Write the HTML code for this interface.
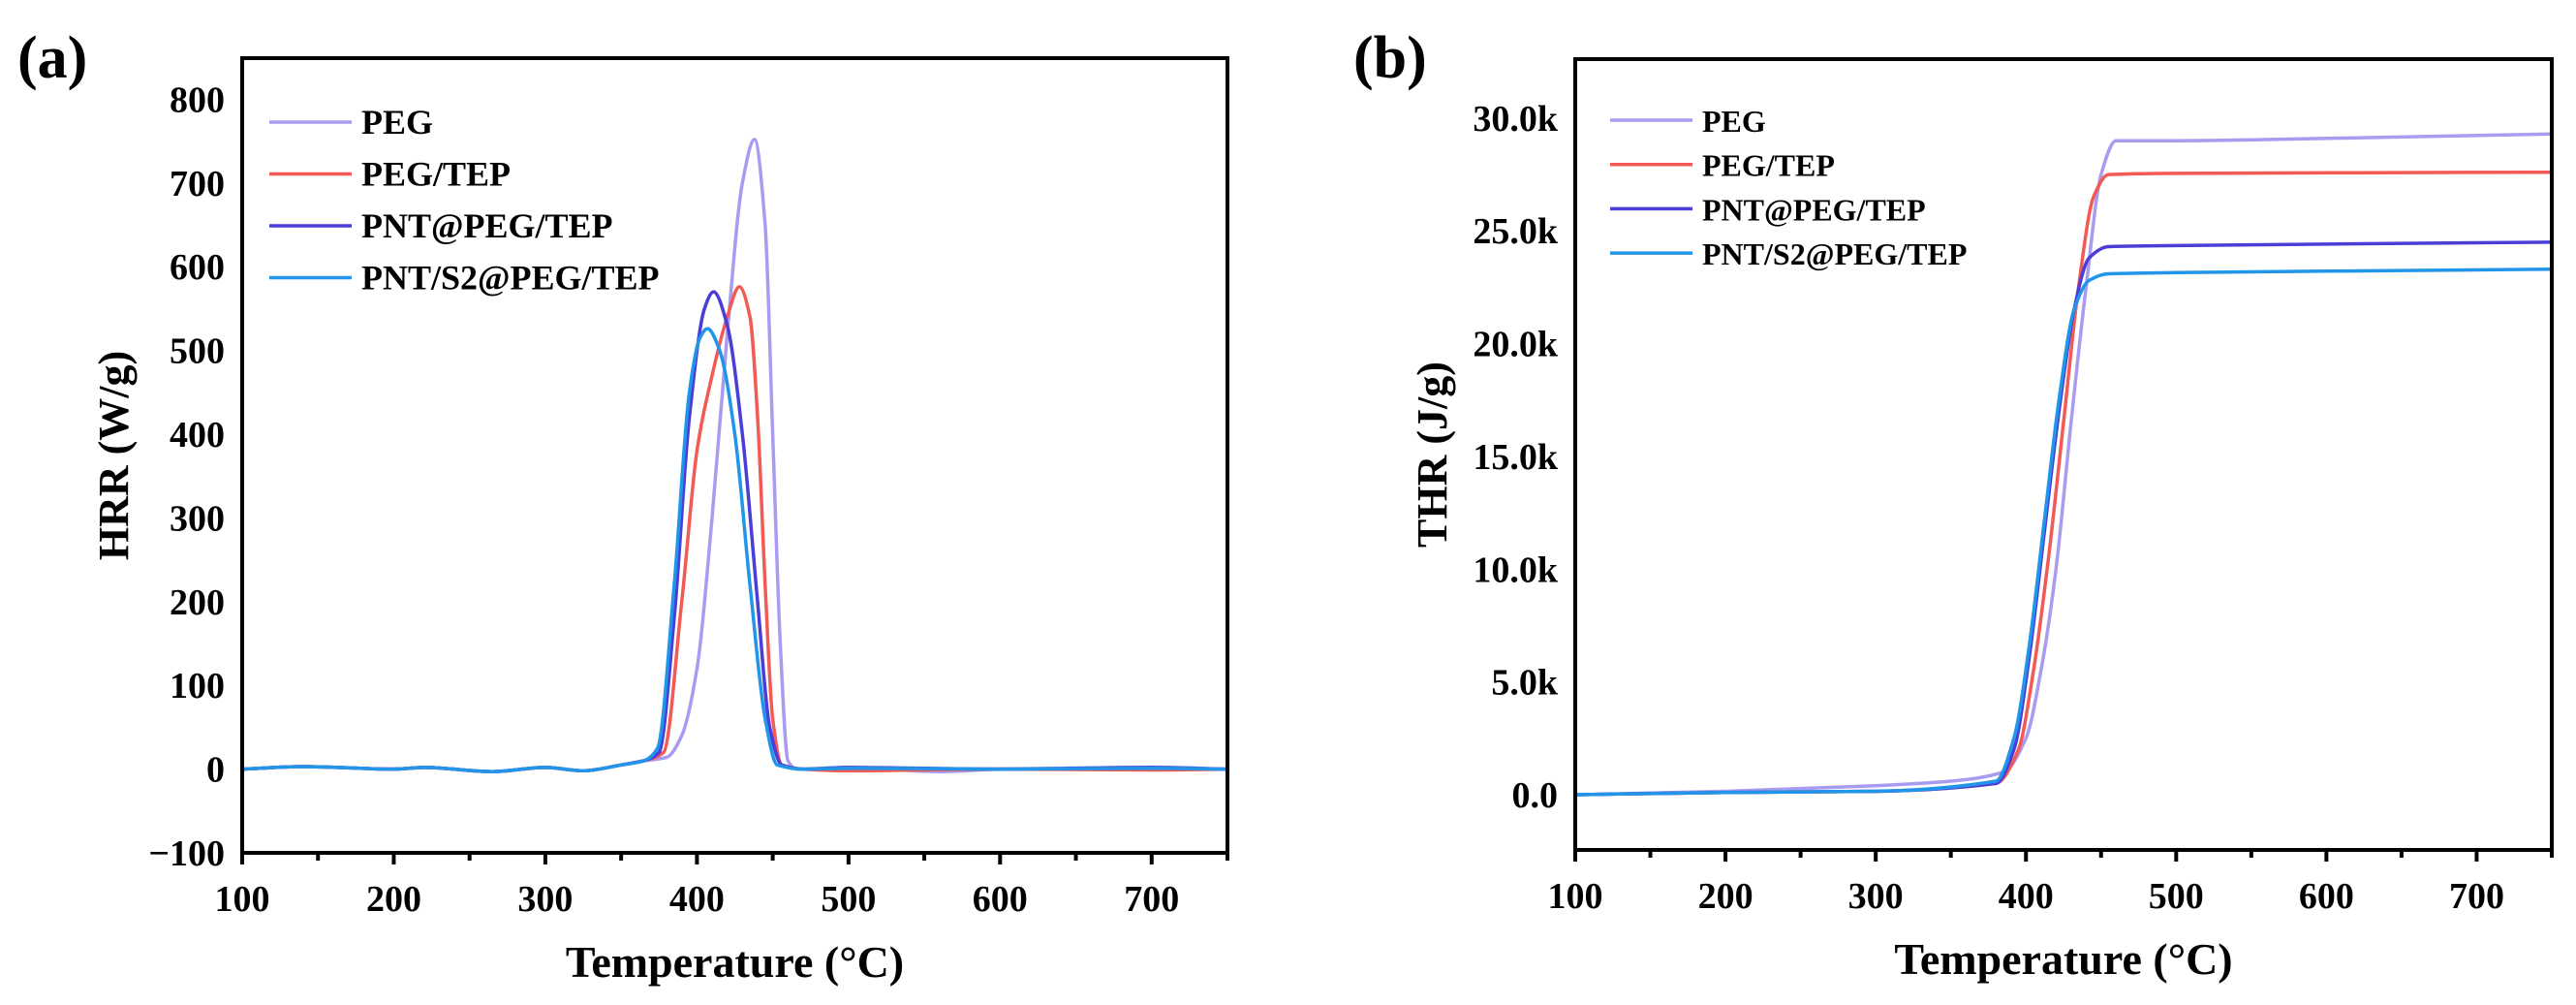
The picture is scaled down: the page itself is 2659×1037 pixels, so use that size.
<!DOCTYPE html>
<html><head><meta charset="utf-8"><style>
html,body{margin:0;padding:0;background:#fff;}
svg{display:block;font-family:"Liberation Serif",serif;font-weight:bold;}
</style></head><body>
<svg id="fig" width="2659" height="1037" viewBox="0 0 2659 1037" xmlns="http://www.w3.org/2000/svg">
<text x="18" y="80" font-size="62">(a)</text>
<text x="1397" y="80" font-size="62">(b)</text>
<g id="ga"></g>
<g id="gb"></g>
</svg>
<script>
const seriesNames=["PEG","PEG/TEP","PNT@PEG/TEP","PNT/S2@PEG/TEP"];
const seriesColors=["#a99bf0","#f25a55","#4a3dd8","#2196e8"];
const xTicks=[100,200,300,400,500,600,700];
const hrrTicks=[-100,0,100,200,300,400,500,600,700,800];
const hrrTickLabels=["\u2212100","0","100","200","300","400","500","600","700","800"];
const thrTicks=[0,5000,10000,15000,20000,25000,30000];
const thrTickLabels=["0.0","5.0k","10.0k","15.0k","20.0k","25.0k","30.0k"];
const baseT=[100,140,200,220,265,300,325,350,365];
const baseV=[0,3,0,2,-3,2,-2,5,10];
const hrrPEG_T=[380,390,400,410,420,430,438,445,450,455,460,466,500,560,600,700,750];
const hrrPEG_V=[14,40,120,300,520,700,752,650,400,150,10,0,2,-3,0,2,0];
const hrrTEP_T=[378,390,400,410,420,428,435,440,445,450,456,470,500,600,700,750];
const hrrTEP_V=[20,200,380,470,540,576,540,420,220,60,5,0,-2,0,-1,0];
const hrrPNT_T=[375,385,395,405,411,420,430,440,448,456,470,500,600,700,750];
const hrrPNT_V=[20,180,420,550,570,530,400,200,50,5,0,2,0,2,0];
const hrrS2_T=[374,385,395,402,407,415,425,435,445,453,470,500,600,700,750];
const hrrS2_V=[25,220,450,515,526,500,400,220,60,5,0,1,0,1,0];
const thrPEG_T=[100,200,300,350,385,400,410,420,430,440,450,460,500,600,750];
const thrPEG_V=[0,150,400,600,1000,2500,5500,10000,16500,22500,27500,29000,29000,29100,29300];
const thrTEP_T=[100,200,300,380,395,405,415,425,435,445,455,500,750];
const thrTEP_V=[0,100,150,500,2000,5500,10500,16500,22500,26500,27500,27550,27600];
const thrPNT_T=[100,200,300,380,392,402,412,422,432,442,455,500,750];
const thrPNT_V=[0,100,150,500,2000,6000,11500,17000,21500,23800,24300,24350,24500];
const thrS2_T=[100,200,300,380,392,402,412,422,432,442,455,500,750];
const thrS2_V=[0,100,150,600,2500,6500,12000,17500,21500,22800,23100,23150,23300];

const NS="http://www.w3.org/2000/svg";
function mk(tag,attrs,parent){const e=document.createElementNS(NS,tag);for(const k in attrs)e.setAttribute(k,attrs[k]);parent.appendChild(e);return e;}
function smooth(p){const n=p.length,d=[],m=[];
 for(let i=0;i<n-1;i++)d.push((p[i+1][1]-p[i][1])/(p[i+1][0]-p[i][0]));
 m[0]=d[0];m[n-1]=d[n-2];
 for(let i=1;i<n-1;i++){m[i]=(d[i-1]*d[i]<=0)?0:(2/(1/d[i-1]+1/d[i]));}
 let s="M"+p[0][0].toFixed(1)+","+p[0][1].toFixed(1);
 for(let i=0;i<n-1;i++){const h=(p[i+1][0]-p[i][0])/3;
  s+="C"+(p[i][0]+h).toFixed(1)+","+(p[i][1]+m[i]*h).toFixed(1)+" "+(p[i+1][0]-h).toFixed(1)+","+(p[i+1][1]-m[i+1]*h).toFixed(1)+" "+p[i+1][0].toFixed(1)+","+p[i+1][1].toFixed(1);}
 return s;}

function chart(g,o){
 const sx=v=>o.x0+(v-100)/(750-100)*(o.x1-o.x0);
 const sy=v=>o.yb+(v-o.ymin)/(o.ymax-o.ymin)*(o.yt-o.yb);
 const fr=mk("rect",{x:o.x0,y:o.yt,width:o.x1-o.x0,height:o.yb-o.yt,fill:"none",stroke:"#000","stroke-width":4},g);
 
 
 for(let t=100;t<=750;t+=50){const x=sx(t);const l=mk("line",{x1:x,x2:x,y1:o.yb,y2:o.yb+(t%100===0?12:8),stroke:"#000","stroke-width":4},g);
  
  }
 xTicks.forEach(t=>{const tx=mk("text",{x:sx(t),y:o.yb+60,"font-size":38,"text-anchor":"middle"},g);tx.textContent=t;
  
  });
 o.yTicks.forEach((t,i)=>{const tx=mk("text",{x:o.x0-18,y:sy(t)+13,"font-size":38,"text-anchor":"end"},g);tx.textContent=o.yLabels[i];
  
  });
 const xt=mk("text",{x:(o.x0+o.x1)/2,y:o.yb+128,"font-size":46,"text-anchor":"middle"},g);xt.textContent="Temperature (\u00B0C)";
 
 
 const yt=mk("text",{x:0,y:0,"font-size":44,"text-anchor":"middle",transform:"translate("+o.ytx+","+((o.yt+o.yb)/2)+") rotate(-90)"},g);yt.textContent=o.ytitle;
 
 
 o.series.forEach((s,i)=>{const pts=s[0].map((t,j)=>[sx(t),sy(s[1][j])]);
  const p=mk("path",{d:smooth(pts),fill:"none",stroke:seriesColors[i],"stroke-width":3.5,"stroke-linejoin":"round"},g);
  
  });
 seriesNames.forEach((n,i)=>{const y=o.ly+i*o.ld;
  const l=mk("line",{x1:o.lx,x2:o.lx+o.ll,y1:y,y2:y,stroke:seriesColors[i],"stroke-width":3.5},g);
  
  
  const tx=mk("text",{x:o.lx+o.ll+10,y:y+12,"font-size":o.lf},g);tx.textContent=n;
  
  });
 fr.parentNode.appendChild(fr);
}
function withBase(T,V){return [baseT.concat(T),baseV.concat(V)];}
chart(document.getElementById("ga"),{x0:250,x1:1267,yt:60,yb:880,ymin:-100,ymax:-100+(880-60)/0.864,
 yTicks:hrrTicks,yLabels:hrrTickLabels,ytitle:"HRR (W/g)",ytx:132,
 series:[withBase(hrrPEG_T,hrrPEG_V),withBase(hrrTEP_T,hrrTEP_V),withBase(hrrPNT_T,hrrPNT_V),withBase(hrrS2_T,hrrS2_V)],
 lx:278,ll:85,ly:126,ld:53.5,lf:36});
chart(document.getElementById("gb"),{x0:1626,x1:2634,yt:61,yb:877,ymin:-2450,ymax:-2450+(877-61)/0.02327,
 yTicks:thrTicks,yLabels:thrTickLabels,ytitle:"THR (J/g)",ytx:1493,
 series:[[thrPEG_T,thrPEG_V],[thrTEP_T,thrTEP_V],[thrPNT_T,thrPNT_V],[thrS2_T,thrS2_V]],
 lx:1662,ll:85,ly:124,ld:45.7,lf:32});
</script>
</body></html>
